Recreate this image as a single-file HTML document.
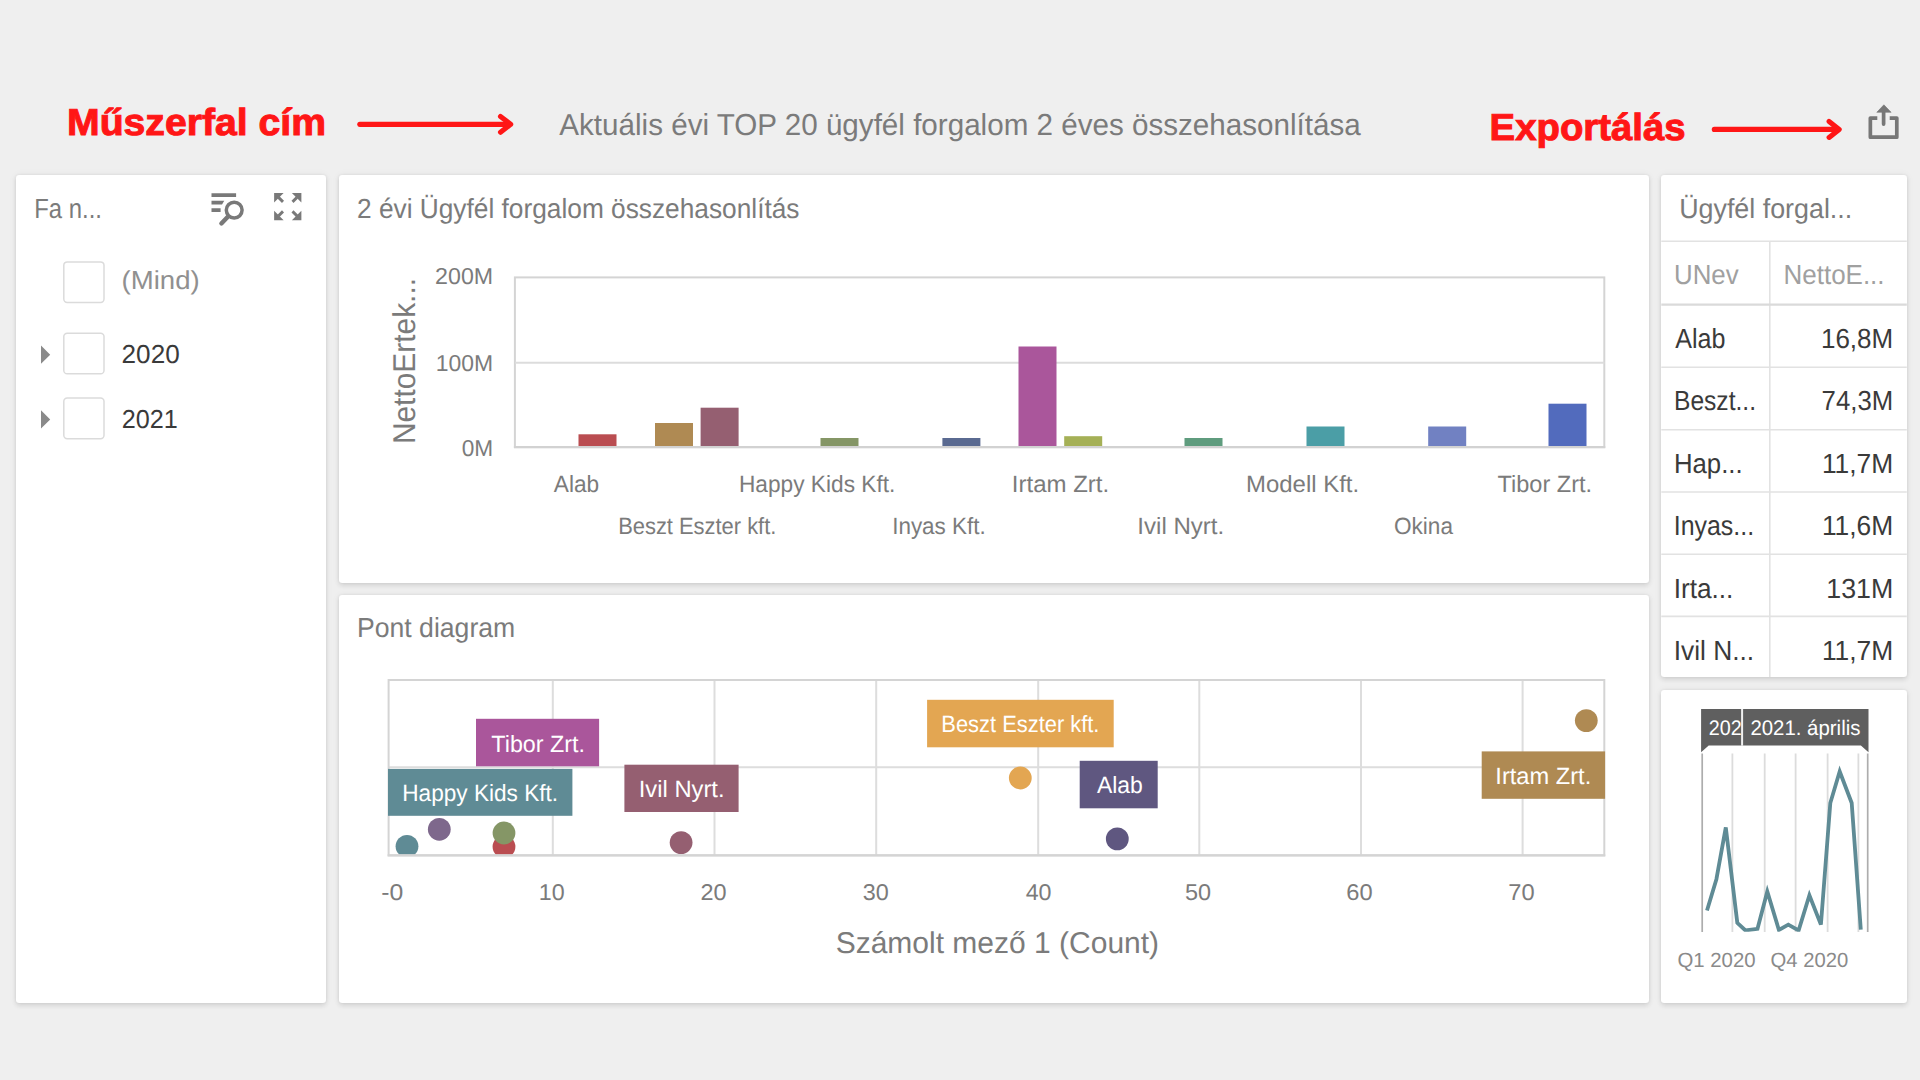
<!DOCTYPE html>
<html lang="hu">
<head>
<meta charset="utf-8">
<title>Műszerfal</title>
<style>
html,body{margin:0;padding:0;}
body{width:1920px;height:1080px;background:#efefef;overflow:hidden;position:relative;font-family:"Liberation Sans",sans-serif;}
.panel{position:absolute;background:#fff;border-radius:3.2px;box-shadow:0 2.5px 5px rgba(0,0,0,0.09),0 0 3px rgba(0,0,0,0.06),0 0 8px rgba(0,0,0,0.05);}
svg{position:absolute;left:0;top:0;}
text{font-family:"Liberation Sans",sans-serif;}
</style>
</head>
<body>
<div class="panel" style="left:15.8px;top:175px;width:309.8px;height:828px;"></div>
<div class="panel" style="left:338.6px;top:175px;width:1310px;height:407.7px;"></div>
<div class="panel" style="left:338.6px;top:595.1px;width:1310px;height:407.9px;"></div>
<div class="panel" style="left:1661.3px;top:175px;width:245.5px;height:502.2px;"></div>
<div class="panel" style="left:1661.3px;top:690.1px;width:245.5px;height:312.9px;"></div>
<svg width="1920" height="1080" viewBox="0 0 1920 1080" text-rendering="geometricPrecision">

<text x="67.06" y="135.4" font-size="37.6" fill="#ff1616" font-weight="bold" textLength="258.93" lengthAdjust="spacingAndGlyphs" stroke="#ff1616" stroke-width="1">Műszerfal cím</text>
<g fill="none" stroke="#ff1616" stroke-width="5.1" stroke-linecap="round" stroke-linejoin="round"><path d="M359.8 124.35H509"/><path d="M500.5 116.5L510.7 124.35L500.5 132.2"/><path d="M1714.3 129.4H1837"/><path d="M1829.1 121.4L1839.2 129.4L1829.1 137.4"/></g>
<text x="559.30" y="135.1" font-size="30.3" fill="#7b7b7b" textLength="801.48" lengthAdjust="spacingAndGlyphs">Aktuális évi TOP 20 ügyfél forgalom 2 éves összehasonlítása</text>
<text x="1489.61" y="140.4" font-size="37.6" fill="#ff1616" font-weight="bold" textLength="195.96" lengthAdjust="spacingAndGlyphs" stroke="#ff1616" stroke-width="1">Exportálás</text>
<g fill="none" stroke="#777" stroke-width="3.7" stroke-linejoin="round"><path d="M1877.3 118.05H1870.35V137.2H1896.8V118.05H1889.7"/><path d="M1883.6 111V124.1" stroke-linecap="round"/></g><path d="M1876.8 112.3L1883.9 104.8L1891.1 112.3Z" fill="#777" stroke="#777" stroke-width="0.6" stroke-linejoin="round"/>
<text x="34.29" y="218.4" font-size="27.7" fill="#7b7b7b" textLength="67.65" lengthAdjust="spacingAndGlyphs">Fa n...</text>
<g fill="none" stroke="#797979"><path d="M211.5 195.15H236.1M211.5 210.05H220.6" stroke-width="3.7"/><path d="M211.5 200.75H224.3L222 204.45H211.5Z" fill="#797979" stroke="none"/><circle cx="234.2" cy="210.1" r="7.9" stroke-width="3.5"/><path d="M227.6 216.9L221.4 223.5" stroke-width="4.4" stroke-linecap="round"/></g>
<g fill="#797979" stroke="#797979" stroke-width="2.9"><path d="M274.1 193H283.6L274.1 202.5Z" stroke="none"/><path d="M278.5 197.4L283 201.9"/><path d="M301.4 193H291.9L301.4 202.5Z" stroke="none"/><path d="M297 197.4L292.5 201.9"/><path d="M274.1 220.3H283.6L274.1 210.8Z" stroke="none"/><path d="M278.5 215.9L283 211.4"/><path d="M301.4 220.3H291.9L301.4 210.8Z" stroke="none"/><path d="M297 215.9L292.5 211.4"/></g>
<rect x="63.8" y="261.9" width="40.2" height="40.6" rx="3.4" fill="#fff" stroke="#dbdbdb" stroke-width="1.5"/>
<rect x="63.8" y="333.2" width="40.2" height="40.6" rx="3.4" fill="#fff" stroke="#dbdbdb" stroke-width="1.5"/>
<rect x="63.8" y="398.1" width="40.2" height="40.6" rx="3.4" fill="#fff" stroke="#dbdbdb" stroke-width="1.5"/>
<text x="121.55" y="288.5" font-size="26" fill="#909090" textLength="78.14" lengthAdjust="spacingAndGlyphs">(Mind)</text>
<text x="121.59" y="362.8" font-size="26" fill="#3a3a3a" textLength="58.14" lengthAdjust="spacingAndGlyphs">2020</text>
<text x="121.64" y="427.9" font-size="26" fill="#3a3a3a" textLength="56.01" lengthAdjust="spacingAndGlyphs">2021</text>
<path d="M41 345.6L50.2 354.7L41 363.8Z M41 410.3L50.2 419.4L41 428.5Z" fill="#8a8a8a"/>
<text x="356.99" y="217.7" font-size="27.7" fill="#7b7b7b" textLength="442.53" lengthAdjust="spacingAndGlyphs">2 évi Ügyfél forgalom összehasonlítás</text>
<g fill="none" stroke="#d9d9d9" stroke-width="2"><rect x="514.9" y="277.4" width="1089.4" height="169.7" stroke="#d4d4d4"/><path d="M515 362.8H1604.5" stroke="#dcdcdc"/></g>
<text x="435.14" y="284.1" font-size="23" fill="#7b7b7b" textLength="58.05" lengthAdjust="spacingAndGlyphs">200M</text>
<text x="435.78" y="370.5" font-size="23" fill="#7b7b7b" textLength="57.39" lengthAdjust="spacingAndGlyphs">100M</text>
<text x="461.65" y="456" font-size="23" fill="#7b7b7b" textLength="31.50" lengthAdjust="spacingAndGlyphs">0M</text>
<text x="-2.39" y="0" font-size="31.5" fill="#7b7b7b" transform="translate(415,441.7) rotate(-90)" textLength="166.09" lengthAdjust="spacingAndGlyphs">NettoErtek...</text>
<rect x="578.5" y="434.3" width="38" height="11.8" fill="#ba4d51"/>
<rect x="655" y="423" width="38" height="23.1" fill="#af8a53"/>
<rect x="700.6" y="407.7" width="38" height="38.4" fill="#955f71"/>
<rect x="820.5" y="438" width="38" height="8.1" fill="#859666"/>
<rect x="942.4" y="438" width="38" height="8.1" fill="#5a6a91"/>
<rect x="1018.5" y="346.5" width="38" height="99.6" fill="#aa569b"/>
<rect x="1064.2" y="436.2" width="38" height="9.9" fill="#a5b056"/>
<rect x="1184.5" y="438" width="38" height="8.1" fill="#5f9c7e"/>
<rect x="1306.5" y="426.5" width="38" height="19.6" fill="#4b9ea6"/>
<rect x="1428.2" y="426.5" width="38" height="19.6" fill="#7181c2"/>
<rect x="1548.5" y="403.7" width="38" height="42.4" fill="#526bbd"/>
<path d="M513.9 447.1H1605.3" stroke="#d2d2d2" stroke-width="2.2"/>
<text x="553.80" y="491.9" font-size="23.5" fill="#7b7b7b" textLength="45.34" lengthAdjust="spacingAndGlyphs">Alab</text>
<text x="738.99" y="491.9" font-size="23.5" fill="#7b7b7b" textLength="156.35" lengthAdjust="spacingAndGlyphs">Happy Kids Kft.</text>
<text x="1011.84" y="491.9" font-size="23.5" fill="#7b7b7b" textLength="97.33" lengthAdjust="spacingAndGlyphs">Irtam Zrt.</text>
<text x="1246.09" y="491.9" font-size="23.5" fill="#7b7b7b" textLength="113.05" lengthAdjust="spacingAndGlyphs">Modell Kft.</text>
<text x="1497.53" y="491.9" font-size="23.5" fill="#7b7b7b" textLength="94.62" lengthAdjust="spacingAndGlyphs">Tibor Zrt.</text>
<text x="618.15" y="533.8" font-size="23.5" fill="#7b7b7b" textLength="158.21" lengthAdjust="spacingAndGlyphs">Beszt Eszter kft.</text>
<text x="892.18" y="533.8" font-size="23.5" fill="#7b7b7b" textLength="93.56" lengthAdjust="spacingAndGlyphs">Inyas Kft.</text>
<text x="1137.34" y="533.8" font-size="23.5" fill="#7b7b7b" textLength="86.85" lengthAdjust="spacingAndGlyphs">Ivil Nyrt.</text>
<text x="1393.98" y="533.8" font-size="23.5" fill="#7b7b7b" textLength="59.01" lengthAdjust="spacingAndGlyphs">Okina</text>
<text x="356.97" y="637.4" font-size="27.5" fill="#7b7b7b" textLength="158.27" lengthAdjust="spacingAndGlyphs">Pont diagram</text>
<g fill="none" stroke="#d9d9d9" stroke-width="2"><path d="M552.8 679.5V855M714.5 679.5V855M876.2 679.5V855M1038.2 679.5V855M1199.3 679.5V855M1361 679.5V855M1522.6 679.5V855M388.5 767.3H1604.5" stroke="#dddddd"/><rect x="388.6" y="680" width="1215.7" height="175.3" stroke="#d4d4d4"/></g>
<clipPath id="sc"><rect x="388" y="679" width="1217.5" height="175.4"/></clipPath>
<g clip-path="url(#sc)">
<circle cx="407" cy="846.3" r="11.4" fill="#5f8b95"/>
<circle cx="504" cy="846.7" r="11.4" fill="#ba4d51"/>
<circle cx="439.3" cy="829.3" r="11.4" fill="#7e688c"/>
<circle cx="504" cy="833" r="11.4" fill="#859666"/>
<circle cx="681.1" cy="842.6" r="11.4" fill="#955f71"/>
<circle cx="1020.3" cy="778" r="11.4" fill="#e3a652"/>
<circle cx="1117.3" cy="838.9" r="11.4" fill="#5f5780"/>
<circle cx="1586.3" cy="720.6" r="11.4" fill="#af8a53"/>
</g>
<path d="M387.6 855.3H1605.3" stroke="#d4d4d4" stroke-width="2.2"/>
<rect x="476" y="718.8" width="123.1" height="47.5" fill="#aa569b"/>
<text x="491.33" y="751.5" font-size="23.5" fill="#fff" textLength="93.69" lengthAdjust="spacingAndGlyphs">Tibor Zrt.</text>
<rect x="388" y="768.9" width="184.4" height="46.9" fill="#5f8b95"/>
<text x="402.29" y="800.9" font-size="23.5" fill="#fff" textLength="155.84" lengthAdjust="spacingAndGlyphs">Happy Kids Kft.</text>
<rect x="624.4" y="764.7" width="114.2" height="47.3" fill="#955f71"/>
<text x="638.76" y="797" font-size="23.5" fill="#fff" textLength="85.80" lengthAdjust="spacingAndGlyphs">Ivil Nyrt.</text>
<rect x="927.1" y="699.8" width="186.6" height="47.5" fill="#e3a652"/>
<text x="941.35" y="732.1" font-size="23.5" fill="#fff" textLength="158.11" lengthAdjust="spacingAndGlyphs">Beszt Eszter kft.</text>
<rect x="1079.7" y="760.8" width="78" height="47.5" fill="#5f5780"/>
<text x="1096.90" y="793.2" font-size="23.5" fill="#fff" textLength="45.95" lengthAdjust="spacingAndGlyphs">Alab</text>
<rect x="1481.7" y="751.4" width="123.4" height="47.4" fill="#af8a53"/>
<text x="1495.37" y="784" font-size="23.5" fill="#fff" textLength="95.86" lengthAdjust="spacingAndGlyphs">Irtam Zrt.</text>
<text x="381.35" y="900" font-size="22.9" fill="#7b7b7b" textLength="22.02" lengthAdjust="spacingAndGlyphs">-0</text>
<text x="538.86" y="900" font-size="22.9" fill="#7b7b7b" textLength="25.87" lengthAdjust="spacingAndGlyphs">10</text>
<text x="700.53" y="900" font-size="22.9" fill="#7b7b7b" textLength="26.11" lengthAdjust="spacingAndGlyphs">20</text>
<text x="862.72" y="900" font-size="22.9" fill="#7b7b7b" textLength="26.01" lengthAdjust="spacingAndGlyphs">30</text>
<text x="1025.68" y="900" font-size="22.9" fill="#7b7b7b" textLength="25.85" lengthAdjust="spacingAndGlyphs">40</text>
<text x="1184.96" y="900" font-size="22.9" fill="#7b7b7b" textLength="26.07" lengthAdjust="spacingAndGlyphs">50</text>
<text x="1346.22" y="900" font-size="22.9" fill="#7b7b7b" textLength="26.33" lengthAdjust="spacingAndGlyphs">60</text>
<text x="1508.22" y="900" font-size="22.9" fill="#7b7b7b" textLength="26.33" lengthAdjust="spacingAndGlyphs">70</text>
<text x="835.65" y="953.2" font-size="30" fill="#7b7b7b" textLength="323.44" lengthAdjust="spacingAndGlyphs">Számolt mező 1 (Count)</text>
<text x="1679.19" y="217.7" font-size="27.7" fill="#7b7b7b" textLength="173.03" lengthAdjust="spacingAndGlyphs">Ügyfél forgal...</text>
<g stroke="#e2e2e2" stroke-width="1.6" fill="none"><path d="M1661.3 241.3H1906.8"/><path d="M1769.8 241.3V677"/><path d="M1661.3 367.3H1906.8"/><path d="M1661.3 429.7H1906.8"/><path d="M1661.3 492H1906.8"/><path d="M1661.3 554.3H1906.8"/><path d="M1661.3 616.4H1906.8"/></g>
<path d="M1661.3 304.6H1906.8" stroke="#dadada" stroke-width="2.2"/>
<text x="1674.06" y="284.4" font-size="27.5" fill="#a0a0a0" textLength="64.62" lengthAdjust="spacingAndGlyphs">UNev</text>
<text x="1783.52" y="284.4" font-size="27.5" fill="#a0a0a0" textLength="101.03" lengthAdjust="spacingAndGlyphs">NettoE...</text>
<text x="1675.30" y="348" font-size="27.7" fill="#3a3a3a" textLength="50.24" lengthAdjust="spacingAndGlyphs">Alab</text>
<text x="1820.95" y="348" font-size="27.7" fill="#3a3a3a" textLength="72.21" lengthAdjust="spacingAndGlyphs">16,8M</text>
<text x="1674.03" y="410" font-size="27.7" fill="#3a3a3a" textLength="81.97" lengthAdjust="spacingAndGlyphs">Beszt...</text>
<text x="1821.61" y="410" font-size="27.7" fill="#3a3a3a" textLength="71.53" lengthAdjust="spacingAndGlyphs">74,3M</text>
<text x="1673.94" y="473" font-size="27.7" fill="#3a3a3a" textLength="68.69" lengthAdjust="spacingAndGlyphs">Hap...</text>
<text x="1821.92" y="473" font-size="27.7" fill="#3a3a3a" textLength="71.29" lengthAdjust="spacingAndGlyphs">11,7M</text>
<text x="1673.76" y="535" font-size="27.7" fill="#3a3a3a" textLength="80.32" lengthAdjust="spacingAndGlyphs">Inyas...</text>
<text x="1821.92" y="535" font-size="27.7" fill="#3a3a3a" textLength="71.29" lengthAdjust="spacingAndGlyphs">11,6M</text>
<text x="1673.64" y="598" font-size="27.7" fill="#3a3a3a" textLength="59.74" lengthAdjust="spacingAndGlyphs">Irta...</text>
<text x="1826.29" y="598" font-size="27.7" fill="#3a3a3a" textLength="66.99" lengthAdjust="spacingAndGlyphs">131M</text>
<text x="1673.63" y="660" font-size="27.7" fill="#3a3a3a" textLength="80.57" lengthAdjust="spacingAndGlyphs">Ivil N...</text>
<text x="1821.92" y="660" font-size="27.7" fill="#3a3a3a" textLength="71.29" lengthAdjust="spacingAndGlyphs">11,7M</text>
<path d="M1701.1 709.1H1868.5V752.2L1860.9 745.6H1708.7L1701.1 752.2Z" fill="#5f5f5f"/>
<path d="M1742.1 709V745.7" stroke="#f0f0f0" stroke-width="2"/>
<text x="1708.81" y="735.2" font-size="21" fill="#fff" textLength="32.95" lengthAdjust="spacingAndGlyphs">202</text>
<text x="1750.38" y="735.2" font-size="21" fill="#fff" textLength="110.03" lengthAdjust="spacingAndGlyphs">2021. április</text>
<g fill="none" stroke="#dcdcdc" stroke-width="1.8"><path d="M1732.4 753.4V932M1764.7 753.4V932M1795.6 753.4V932M1827.6 753.4V932M1858.4 753.4V932"/></g>
<path d="M1702.2 753.4V932M1867.7 753.4V932" stroke="#adadad" stroke-width="1.7" fill="none"/>
<clipPath id="rc"><rect x="1700" y="750" width="170" height="181.7"/></clipPath>
<polyline clip-path="url(#rc)" fill="none" stroke="#5f8b95" stroke-width="3.8" stroke-linejoin="miter" points="1707,910.5 1716.4,879.2 1725.8,827.4 1737.3,922.8 1745.5,930.5 1757.5,928.8 1767.3,891.5 1778.9,930 1788.3,924.6 1798.6,930.5 1809.4,895.2 1820.9,924.6 1830.3,803 1839.7,771.5 1851.7,803 1860.8,929.7"/>
<text x="1677.38" y="967" font-size="20.5" fill="#8a8a8a" textLength="78.21" lengthAdjust="spacingAndGlyphs">Q1 2020</text>
<text x="1770.59" y="967" font-size="20.5" fill="#8a8a8a" textLength="77.70" lengthAdjust="spacingAndGlyphs">Q4 2020</text>
</svg>
</body>
</html>
